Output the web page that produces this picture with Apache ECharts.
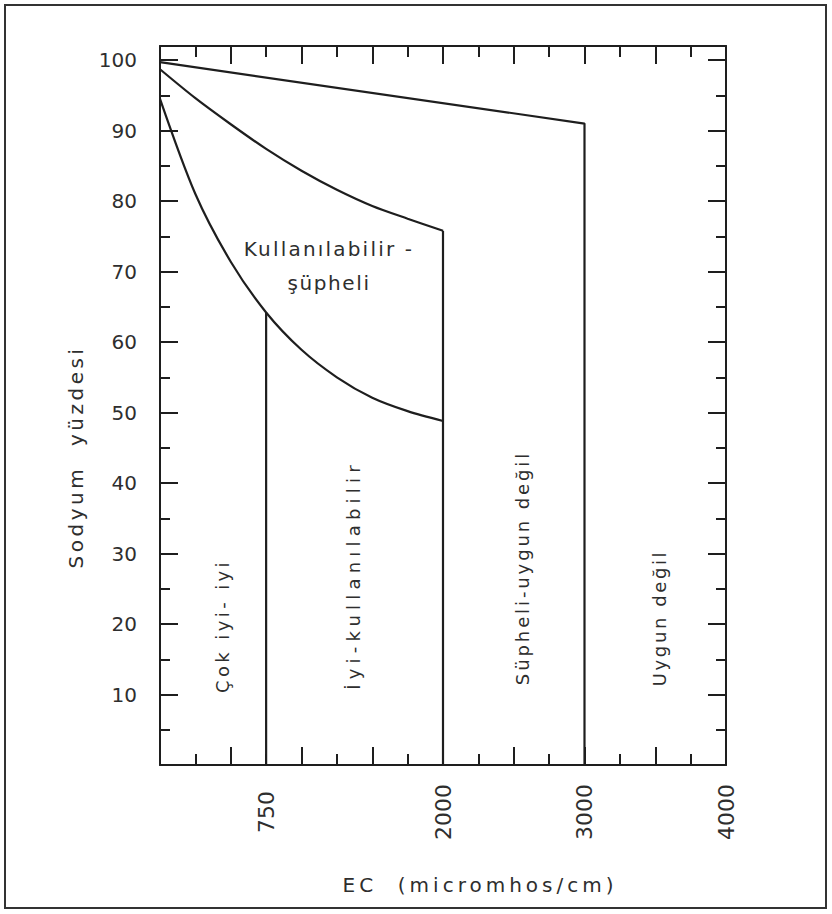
<!DOCTYPE html>
<html>
<head>
<meta charset="utf-8">
<script src="https://cdn.jsdelivr.net/npm/echarts@6/dist/echarts.min.js"></script>
<style>
html,body{margin:0;padding:0;background:#fff;}
#c{width:832px;height:914px;}
</style>
</head>
<body>
<div id="c"></div>
<script>
// ---- data (EC in micromhos/cm, Na in %) ----
const ecLabelValues = [750, 2000, 3000, 4000];
const yLabelValues = [10, 20, 30, 40, 50, 60, 70, 80, 90, 100];

// upper limit line (Şüpheli-uygun değil / Uygun değil)
const topLineEC = [0, 3000, 3000];
const topLineNa = [99.7, 91.0, 0];

// curve bounding "Kullanılabilir-şüpheli" from above
const curveMidEC = [0, 250, 500, 750, 1000, 1250, 1500, 1750, 2000];
const curveMidNa = [98.7, 94.6, 90.9, 87.4, 84.3, 81.6, 79.3, 77.5, 75.8];

// lower curve
const curveLowEC = [0, 250, 500, 750, 1000, 1250, 1500, 1750, 2000];
const curveLowNa = [94.5, 81.0, 71.4, 64.2, 58.9, 55.0, 52.1, 50.2, 48.8];

// vertical class boundaries
const boundary750EC = [750, 750];
const boundary750Na = [64.2, 0];
const boundary2000EC = [2000, 2000];
const boundary2000Na = [75.8, 0];

const regionLabels = ['Çok iyi- iyi', 'İyi-kullanılabilir', 'Süpheli-uygun değil', 'Uygun değil'];
const midLabel1 = 'Kullanılabilir -';
const midLabel2 = 'şüpheli';
const yName = 'Sodyum  yüzdesi';
const xName = 'EC  (micromhos/cm)';

function zip(a, b) { return a.map((v, i) => [v, b[i]]); }

const FONT = 'DejaVu Sans';
const INK = '#1e1e1e';
const TXT = '#2e2e2e';
const lineStyle = { color: INK, width: 2.2 };

// extra letter spacing (px) imitating the stencil lettering of the original
const spacing = {};
spacing[yName] = 3.5;
spacing[xName] = 4;
spacing[midLabel1] = 2.2;
spacing[midLabel2] = 1.6;
spacing[regionLabels[0]] = 3.4;
spacing[regionLabels[1]] = 5.2;
spacing[regionLabels[2]] = 2.9;
spacing[regionLabels[3]] = 2.6;

const chart = echarts.init(document.getElementById('c'), null, { renderer: 'svg' });
const tickCommon = {
  axisLine: { show: true, onZero: false, lineStyle: { color: INK, width: 2 } },
  splitLine: { show: false },
};
function txt(x, y, text, size, rot) {
  return { type: 'text', x: x, y: y, rotation: rot ? Math.PI / 2 : 0,
    style: { text: text, fontFamily: FONT, fontSize: size, fill: TXT, align: 'center', verticalAlign: 'middle' } };
}
const option = {
  backgroundColor: '#ffffff',
  animation: false,
  grid: { left: 160, right: 106, top: 46, bottom: 149 },
  xAxis: [
    Object.assign({
      type: 'value', position: 'bottom', min: 0, max: 4000, interval: 500,
      axisTick: { show: true, inside: true, length: 18, lineStyle: { color: INK, width: 2 } },
      minorTick: { show: true, splitNumber: 2, length: 11, lineStyle: { color: INK, width: 2 } },
      minorSplitLine: { show: false },
      axisLabel: { show: false }
    }, tickCommon),
    Object.assign({
      type: 'value', position: 'top', min: 0, max: 4000, interval: 500,
      axisTick: { show: true, inside: true, length: 18, lineStyle: { color: INK, width: 2 } },
      minorTick: { show: true, splitNumber: 2, length: 11, lineStyle: { color: INK, width: 2 } },
      minorSplitLine: { show: false },
      axisLabel: { show: false }
    }, tickCommon),
    {
      type: 'value', position: 'bottom', min: 0, max: 4000, interval: 250,
      axisLine: { show: false }, axisTick: { show: false }, splitLine: { show: false },
      axisLabel: {
        show: true, rotate: 90, align: 'center', verticalAlign: 'middle', margin: 47,
        fontFamily: FONT, fontSize: 22, color: TXT,
        formatter: v => ecLabelValues.indexOf(v) >= 0 ? String(v) : ''
      }
    }
  ],
  yAxis: [
    Object.assign({
      type: 'value', position: 'left', min: 0, max: 102, interval: 10,
      axisTick: { show: true, inside: true, length: 18, lineStyle: { color: INK, width: 2 } },
      minorTick: { show: true, splitNumber: 2, length: 10, lineStyle: { color: INK, width: 2 } },
      minorSplitLine: { show: false },
      axisLabel: {
        show: true, margin: 23, fontFamily: FONT, fontSize: 20, color: TXT,
        formatter: v => yLabelValues.indexOf(v) >= 0 ? String(v) : ''
      }
    }, tickCommon),
    Object.assign({
      type: 'value', position: 'right', min: 0, max: 102, interval: 10,
      axisTick: { show: true, inside: true, length: 18, lineStyle: { color: INK, width: 2 } },
      minorTick: { show: true, splitNumber: 2, length: 10, lineStyle: { color: INK, width: 2 } },
      minorSplitLine: { show: false },
      axisLabel: { show: false }
    }, tickCommon)
  ],
  series: [
    { type: 'line', data: zip(topLineEC, topLineNa), symbol: 'none', lineStyle: lineStyle },
    { type: 'line', data: zip(curveMidEC, curveMidNa), symbol: 'none', smooth: 0.3, lineStyle: lineStyle },
    { type: 'line', data: zip(curveLowEC, curveLowNa), symbol: 'none', smooth: 0.3, lineStyle: lineStyle },
    { type: 'line', data: zip(boundary750EC, boundary750Na), symbol: 'none', lineStyle: lineStyle },
    { type: 'line', data: zip(boundary2000EC, boundary2000Na), symbol: 'none', lineStyle: lineStyle }
  ],
  graphic: [
    { type: 'rect', shape: { x: 5, y: 5, width: 821, height: 903 }, style: { fill: 'none', stroke: '#333', lineWidth: 2 }, silent: true },
    txt(76, 457, yName, 20, true),
    txt(480, 885, xName, 20, false),
    txt(222, 626, regionLabels[0], 18, true),
    txt(353, 575, regionLabels[1], 18, true),
    txt(522, 568, regionLabels[2], 18, true),
    txt(659, 618, regionLabels[3], 18, true),
    txt(329, 249, midLabel1, 20, false),
    txt(329, 283, midLabel2, 20, false)
  ]
};
chart.setOption(option);

function applySpacing() {
  document.querySelectorAll('#c svg text').forEach(function (t) {
    const s = spacing[t.textContent];
    if (s !== undefined) t.style.letterSpacing = s + 'px';
  });
}
try { chart.getZr().flush(); } catch (e) {}
applySpacing();
chart.on('finished', applySpacing);
setTimeout(applySpacing, 0);
setTimeout(applySpacing, 100);
</script>
</body>
</html>
